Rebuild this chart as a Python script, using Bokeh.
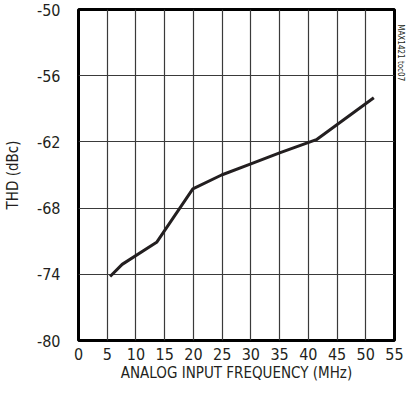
from bokeh.plotting import figure
from bokeh.models import FixedTicker, Range1d, LinearAxis, PrintfTickFormatter
from bokeh.embed import file_html
from bokeh.resources import INLINE

freq_mhz = [5.5, 7.6, 13.6, 19.9, 24.9, 30.0, 35.0, 41.4, 51.4]
thd_dbc = [-74.2, -73.1, -71.1, -66.25, -65.0, -64.0, -63.0, -61.8, -58.0]
x_ticks = [0, 5, 10, 15, 20, 25, 30, 35, 40, 45, 50, 55]
y_ticks = [-80, -74, -68, -62, -56, -50]
code_text = "MAX1421 toc07"

FONT = "DejaVu Sans Condensed"

p = figure(width=407, height=384, output_backend="svg", toolbar_location=None,
           x_range=Range1d(0, 55), y_range=Range1d(-80, -50),
           min_border_left=70, min_border_right=0, min_border_top=9, min_border_bottom=44)
p.line(freq_mhz, thd_dbc, line_width=3, line_color="#231f20")

p.outline_line_color = "black"
p.outline_line_width = 3
p.outline_line_alpha = 1

for ax in (p.xaxis[0], p.yaxis[0]):
    ax.axis_line_color = None
    ax.major_tick_line_color = None
    ax.minor_tick_line_color = None
    ax.major_tick_in = 0
    ax.major_tick_out = 0
    ax.major_label_text_font = FONT
    ax.major_label_text_font_size = "16px"
    ax.major_label_text_color = "#231f20"
    ax.axis_label_text_font = FONT
    ax.axis_label_text_font_size = "15px"
    ax.axis_label_text_font_style = "normal"
    ax.axis_label_text_color = "#231f20"

p.xaxis.ticker = FixedTicker(ticks=x_ticks)
p.yaxis.ticker = FixedTicker(ticks=y_ticks)
p.xaxis.formatter = PrintfTickFormatter(format="%d")
p.yaxis.formatter = PrintfTickFormatter(format="%d")
p.xaxis.major_label_standoff = 7
p.yaxis.major_label_standoff = 18
p.xaxis.axis_label = "ANALOG INPUT FREQUENCY (MHz)"
p.yaxis.axis_label = "THD (dBc)"
p.xaxis.axis_label_standoff = 1
p.yaxis.axis_label_standoff = 12

p.xgrid.ticker = FixedTicker(ticks=x_ticks)
p.ygrid.ticker = FixedTicker(ticks=y_ticks)
for g in (p.xgrid[0], p.ygrid[0]):
    g.grid_line_color = "#3a3a3a"
    g.grid_line_width = 1.2

# stamp on the right edge, pushed toward the top with non-breaking spaces
code_axis = LinearAxis(ticker=FixedTicker(ticks=[]),
                       axis_label=code_text + "\u00a0" * 107,
                       axis_label_text_font=FONT, axis_label_text_font_size="8px",
                       axis_label_text_font_style="normal", axis_label_text_color="#231f20",
                       axis_label_standoff=1, major_label_standoff=0,
                       major_tick_in=0, major_tick_out=0,
                       axis_line_color=None, major_tick_line_color=None,
                       minor_tick_line_color=None)
p.add_layout(code_axis, "right")

open("out.html", "w").write(file_html(p, INLINE))
